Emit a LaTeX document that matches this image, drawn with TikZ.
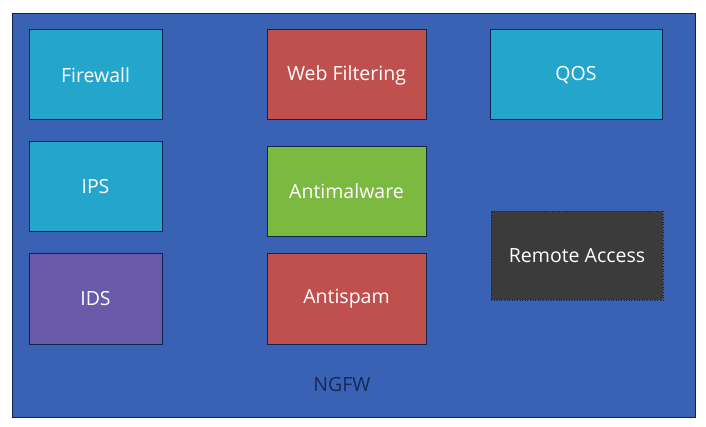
\documentclass[tikz,border=0pt]{standalone}
\usepackage{fontspec}
\setmainfont{Open Sans}
\definecolor{ngfwBlue}{RGB}{58,98,180}
\definecolor{ngfwLine}{RGB}{15,35,75}
\definecolor{ngfwText}{RGB}{22,40,90}
\definecolor{cyanBox}{RGB}{36,166,204}
\definecolor{redBox}{RGB}{192,80,77}
\definecolor{greenBox}{RGB}{124,185,64}
\definecolor{purpleBox}{RGB}{106,91,170}
\definecolor{grayBox}{RGB}{59,59,59}

\begin{document}
\begin{tikzpicture}
[x=1pt,y=-1pt,%
  frameDecorate/.style={draw=ngfwLine,fill=ngfwBlue,line width=1pt},%
  boxDecorate/.style={draw=ngfwLine,line width=1pt,text=white,inner sep=0pt,
    font=\fontsize{19.5}{23}\selectfont},%
  darkDecorate/.style={draw=ngfwLine,line width=0.6pt,dotted,text=white,inner sep=0pt,
    font=\fontsize{19.5}{23}\selectfont}]
\useasboundingbox (0,0) rectangle (706,427);
%% outer frame
\path[frameDecorate] (12,14) rectangle (695,417);
\node (ngfw) at (342,385) [text=ngfwText,font=\fontsize{19.5}{23}\selectfont] {NGFW};
%% feature boxes
\foreach \nodename/\x/\y/\w/\col/\txt in {
  firewall/95.5/75/133/cyanBox/Firewall,
  ips/95.5/187/133/cyanBox/IPS,
  ids/95.5/299/133/purpleBox/IDS,
  webfilter/346.5/75/159/redBox/Web Filtering,
  antimalware/346.5/191.5/159/greenBox/Antimalware,
  antispam/346.5/299/159/redBox/Antispam,
  qos/576/75/172/cyanBox/QOS}
{
  \node (\nodename) at (\x,\y) [boxDecorate,fill=\col,
    minimum width=\w pt,minimum height=90pt] {\txt};
}
\node (remote) at (577,255.5) [darkDecorate,fill=grayBox,
  minimum width=172pt,minimum height=89pt] {Remote Access};
\end{tikzpicture}
\end{document}
